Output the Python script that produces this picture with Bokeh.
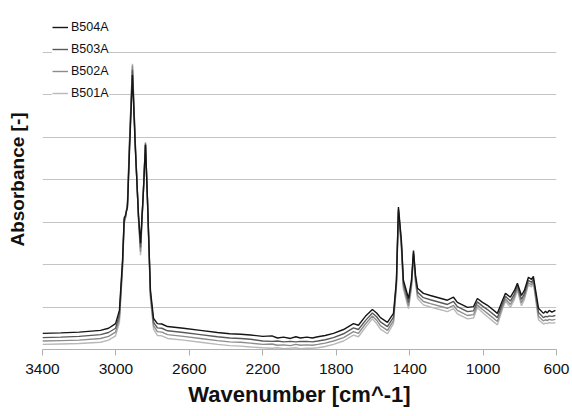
from bokeh.plotting import figure
from bokeh.models import Range1d, FixedTicker, Legend, LegendItem
from bokeh.embed import file_html
from bokeh.resources import INLINE

wavenumber = [3400, 3300, 3200, 3084, 3040, 3002, 2981, 2964, 2955, 2948, 2937, 2926, 2910, 2894, 2877,
              2866, 2850, 2839, 2828, 2812, 2795, 2774, 2750, 2719, 2632, 2540, 2447, 2380, 2320, 2267,
              2200, 2150, 2120, 2087, 2050, 2020, 1995, 1960, 1930, 1900, 1860, 1815, 1760, 1706, 1679,
              1641, 1603, 1580, 1559, 1521, 1488, 1472, 1461, 1445, 1434, 1406, 1390, 1379, 1368, 1357,
              1325, 1287, 1194, 1161, 1140, 1085, 1052, 1031, 1003, 976, 922, 894, 878, 851, 829,
              813, 791, 775, 753, 736, 726, 709, 698, 671, 660, 650, 640, 625, 606]

b504a = [.38, .39, .41, .45, .50, .61, .92, 2.10, 3.10, 3.16, 3.35, 4.69, 6.46, 4.69, 3.16,
         2.50, 3.75, 4.81, 3.51, 1.39, .73, .61, .60, .54, .50, .45, .40, .37, .36, .34,
         .31, .32, .27, .29, .26, .30, .27, .29, .27, .30, .33, .38, .47, .61, .57,
         .78, .94, .86, .75, .64, .85, 1.63, 3.35, 2.57, 1.63, 1.20, 1.63, 2.33, 1.75, 1.44,
         1.32, 1.27, 1.16, 1.23, 1.11, .99, 1.01, 1.20, 1.11, 1.04, .85, 1.16, 1.32, 1.23, 1.39,
         1.56, 1.27, 1.39, 1.70, 1.65, 1.72, 1.27, .97, .85, .90, .86, .92, .88, .92]

b503a = [.28, .29, .31, .35, .40, .50, .82, 2.02, 3.05, 3.12, 3.40, 4.80, 6.58, 4.75, 3.12,
         2.40, 3.76, 4.84, 3.50, 1.32, .64, .51, .50, .44, .40, .35, .30, .27, .26, .24,
         .20, .19, .20, .18, .19, .18, .19, .19, .18, .20, .23, .28, .37, .51, .47,
         .68, .86, .77, .65, .54, .76, 1.57, 3.30, 2.50, 1.55, 1.11, 1.56, 2.28, 1.68, 1.35,
         1.22, 1.17, 1.06, 1.13, 1.01, .89, .91, 1.12, 1.02, .94, .75, 1.08, 1.25, 1.14, 1.31,
         1.50, 1.18, 1.31, 1.63, 1.58, 1.66, 1.18, .87, .75, .78, .77, .79, .78, .80]

b502a = [.20, .21, .22, .26, .31, .41, .73, 1.95, 3.00, 3.10, 3.45, 4.90, 6.68, 4.80, 3.08,
         2.30, 3.77, 4.86, 3.48, 1.26, .56, .42, .41, .35, .31, .26, .21, .18, .17, .15,
         .12, .13, .10, .11, .09, .12, .10, .11, .10, .12, .15, .20, .28, .42, .38,
         .60, .79, .69, .56, .45, .68, 1.52, 3.25, 2.44, 1.48, 1.03, 1.50, 2.24, 1.62, 1.27,
         1.13, 1.08, .97, 1.04, .92, .80, .82, 1.05, .94, .85, .66, 1.01, 1.19, 1.06, 1.24,
         1.45, 1.10, 1.24, 1.57, 1.52, 1.61, 1.10, .78, .67, .70, .68, .71, .69, .71]

b501a = [.12, .13, .14, .17, .22, .32, .64, 1.90, 2.95, 3.08, 3.50, 4.95, 6.72, 4.82, 3.05,
         2.22, 3.78, 4.88, 3.45, 1.20, .48, .33, .32, .26, .22, .17, .12, .09, .08, .06,
         .04, .03, .04, .02, .03, .04, .02, .03, .03, .04, .07, .12, .20, .34, .30,
         .52, .72, .61, .48, .37, .61, 1.48, 3.20, 2.38, 1.42, .96, 1.45, 2.20, 1.57, 1.20,
         1.05, 1.00, .89, .96, .84, .72, .74, .99, .87, .77, .58, .95, 1.14, .99, 1.18,
         1.40, 1.03, 1.18, 1.52, 1.47, 1.57, 1.03, .70, .60, .62, .61, .63, .62, .63]

series_names = ["B504A", "B503A", "B502A", "B501A"]
series_values = [b504a, b503a, b502a, b501a]
series_colors = ["#151515", "#5a5a5a", "#8c8c8c", "#b8b8b8"]
x_ticks = [3400, 3000, 2600, 2200, 1800, 1400, 1000, 600]

p = figure(width=572, height=416, output_backend="svg", toolbar_location=None,
           x_range=Range1d(3400, 600), y_range=Range1d(0, 8),
           min_border_left=42, min_border_right=16, min_border_top=9, min_border_bottom=67)
p.outline_line_color = None
p.background_fill_color = "white"
p.xgrid.grid_line_color = None
p.ygrid.grid_line_color = "#c4c4c4"
p.ygrid.grid_line_width = 1
p.ygrid.ticker = FixedTicker(ticks=[1, 2, 3, 4, 5, 6, 7, 8])

renderers = []
for name, vals, col in zip(series_names[::-1], series_values[::-1], series_colors[::-1]):
    r = p.line(wavenumber, vals, line_color=col, line_width=1.4)
    renderers.append((name, r))
renderers = renderers[::-1]

legend = Legend(items=[LegendItem(label=n, renderers=[r]) for n, r in renderers],
                location=(10, 249), padding=0, margin=0, spacing=8,
                glyph_width=16, glyph_height=14, label_standoff=3,
                label_text_font="Liberation Sans", label_text_font_size="12.5px",
                label_text_color="#111111", border_line_color=None,
                background_fill_color="white", background_fill_alpha=1.0)
p.add_layout(legend)

xa = p.xaxis[0]
xa.ticker = FixedTicker(ticks=x_ticks)
xa.axis_line_color = "#b0b0b0"
xa.major_tick_line_color = "#b0b0b0"
xa.major_tick_out = 6
xa.major_tick_in = 0
xa.minor_tick_line_color = None
xa.major_label_standoff = 8
xa.major_label_text_font = "Liberation Sans"
xa.major_label_text_font_size = "15.5px"
xa.major_label_text_color = "#111111"
xa.axis_label = "Wavenumber [cm^-1]"
xa.axis_label_text_font = "Liberation Sans"
xa.axis_label_text_font_style = "bold"
xa.axis_label_text_font_size = "22px"
xa.axis_label_text_color = "#111111"
xa.axis_label_standoff = 5

ya = p.yaxis[0]
ya.ticker = FixedTicker(ticks=[])
ya.axis_line_color = None
ya.major_tick_line_color = None
ya.minor_tick_line_color = None
ya.major_label_text_font_size = "0px"
ya.axis_label = "Absorbance [-]"
ya.axis_label_text_font = "Liberation Sans"
ya.axis_label_text_font_style = "bold"
ya.axis_label_text_font_size = "19px"
ya.axis_label_text_color = "#111111"
ya.axis_label_standoff = 15

open("out.html", "w").write(file_html(p, INLINE))
